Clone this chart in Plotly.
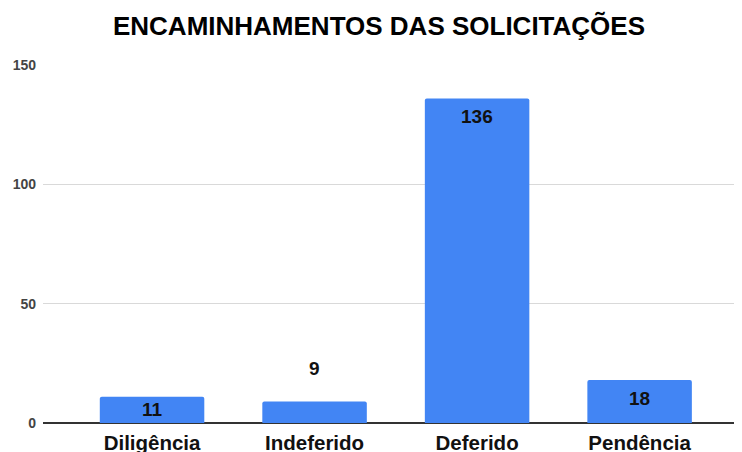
import plotly.graph_objects as go

categories = ["Diligência", "Indeferido", "Deferido", "Pendência"]
values = [11, 9, 136, 18]
y_ticks = [0, 50, 100, 150]
title_text = "ENCAMINHAMENTOS DAS SOLICITAÇÕES"

FONT = "Liberation Sans, Arial, sans-serif"
LABEL_FONT = dict(family=FONT, size=19, color="#111111", weight="bold")

# page has an 8px body margin, so margins are offset by -8
W, H = 742, 452
M_L, M_R, M_T, M_B = 35, 8, 57, 37
Y_MAX = 150
px_per_unit = (H - M_T - M_B) / Y_MAX

fig = go.Figure()
fig.add_trace(go.Bar(
    x=categories, y=values,
    marker=dict(color="#4285F4", cornerradius=2, line=dict(width=0)),
    hoverinfo="skip",
))

for c, v in zip(categories, values):
    bar_px = v * px_per_unit
    if bar_px < 24:
        # does not fit: label above the bar
        fig.add_annotation(x=c, y=v, text=str(v), showarrow=False,
                           yanchor="middle", yshift=33, font=LABEL_FONT)
    elif bar_px < 40:
        # short bar: centred in the bar
        fig.add_annotation(x=c, y=v / 2, text=str(v), showarrow=False,
                           yanchor="middle", font=LABEL_FONT)
    else:
        # tall bar: near the top inside
        fig.add_annotation(x=c, y=v, text=str(v), showarrow=False,
                           yanchor="middle", yshift=-18, font=LABEL_FONT)

fig.update_layout(
    width=W, height=H,
    margin=dict(l=M_L, r=M_R, t=M_T, b=M_B),
    paper_bgcolor="white", plot_bgcolor="white",
    bargap=0.357,
    showlegend=False,
    title=dict(text=title_text, x=371 / W, xanchor="center", y=1 - 17.5 / H, yanchor="middle",
               font=dict(family=FONT, size=26, color="#000000", weight="bold")),
    xaxis=dict(range=[-0.671, 3.63], showgrid=False, showline=False, ticks="",
               automargin=False, ticklabelstandoff=5,
               tickfont=dict(family=FONT, size=20.5, color="#111111", weight="bold")),
    yaxis=dict(range=[0, Y_MAX], tickvals=y_ticks, showgrid=True, gridcolor="#d9d9d9",
               gridwidth=1, zeroline=True, zerolinecolor="#333333", zerolinewidth=1.5,
               ticklabelstandoff=6, automargin=False,
               tickfont=dict(family=FONT, size=14, color="#444444", weight="bold")),
)
fig.write_html("out.html")
